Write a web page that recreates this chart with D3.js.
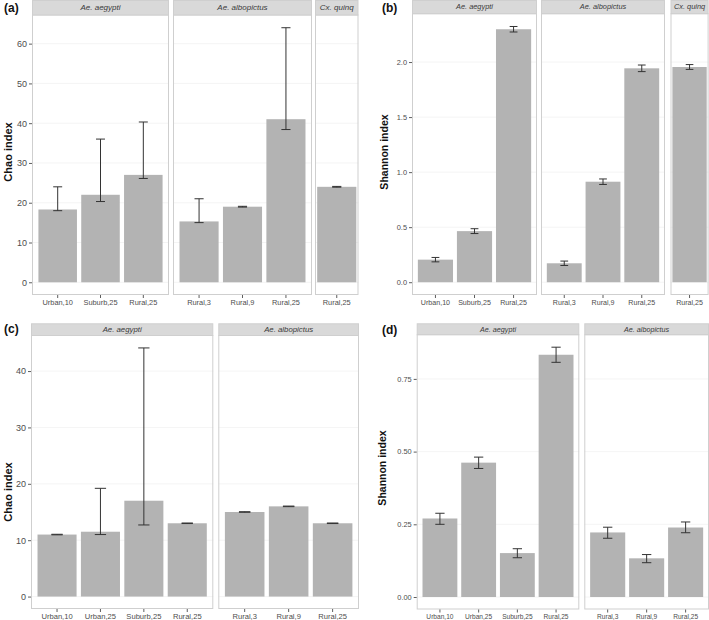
<!DOCTYPE html>
<html><head><meta charset="utf-8">
<script src="https://cdn.jsdelivr.net/npm/d3@7"></script>
<style>
html,body{margin:0;padding:0;background:#fff;}
svg{display:block;}
text{font-family:"Liberation Sans",Arial,Helvetica,sans-serif;}
</style></head>
<body>
<svg id="chart" width="709" height="620"></svg>
<script>
// ---------- DATA ----------
// (a) Chao index
const aFacets = ["Ae. aegypti", "Ae. albopictus", "Cx. quinq"];
const aCats = [["Urban,10", "Suburb,25", "Rural,25"], ["Rural,3", "Rural,9", "Rural,25"], ["Rural,25"]];
const aValues = [[18.3, 22.0, 27.0], [15.3, 19.0, 41.0], [24.0]];
const aLower = [[18.0, 20.3, 26.1], [15.0, 18.9, 38.4], [23.9]];
const aUpper = [[24.0, 36.0, 40.3], [21.0, 19.1, 64.0], [24.1]];
const aTicks = [0, 10, 20, 30, 40, 50, 60];

// (b) Shannon index
const bFacets = ["Ae. aegypti", "Ae. albopictus", "Cx. quinq"];
const bCats = [["Urban,10", "Suburb,25", "Rural,25"], ["Rural,3", "Rural,9", "Rural,25"], ["Rural,25"]];
const bValues = [[0.205, 0.464, 2.298], [0.172, 0.913, 1.943], [1.955]];
const bLower = [[0.185, 0.442, 2.273], [0.152, 0.888, 1.913], [1.933]];
const bUpper = [[0.225, 0.486, 2.323], [0.192, 0.938, 1.973], [1.977]];
const bTicks = [0, 0.5, 1.0, 1.5, 2.0];

// (c) Chao index
const cFacets = ["Ae. aegypti", "Ae. albopictus"];
const cCats = [["Urban,10", "Urban,25", "Suburb,25", "Rural,25"], ["Rural,3", "Rural,9", "Rural,25"]];
const cValues = [[11.0, 11.5, 17.0, 13.0], [15.0, 16.0, 13.0]];
const cLower = [[10.95, 11.0, 12.7, 12.95], [14.95, 15.95, 12.95]];
const cUpper = [[11.05, 19.2, 44.1, 13.05], [15.05, 16.05, 13.05]];
const cTicks = [0, 10, 20, 30, 40];

// (d) Shannon index
const dFacets = ["Ae. aegypti", "Ae. albopictus"];
const dCats = [["Urban,10", "Urban,25", "Suburb,25", "Rural,25"], ["Rural,3", "Rural,9", "Rural,25"]];
const dValues = [[0.270, 0.462, 0.151, 0.833], [0.222, 0.133, 0.239]];
const dLower = [[0.250, 0.442, 0.135, 0.807], [0.202, 0.118, 0.221]];
const dUpper = [[0.288, 0.481, 0.166, 0.859], [0.240, 0.146, 0.258]];
const dTicks = [0, 0.25, 0.50, 0.75];

// ---------- STYLE / LAYOUT ----------
const BAR = "#b3b3b3", STRIP = "#d9d9d9", BORDER = "#cfcfcf", GRID = "#f1f1f1", INK = "#333333";
const svg = d3.select("#chart");

function drawPanel(o) {
  const g = svg.append("g");
  // y domain like ggplot: include 0, expand 5%
  const maxU = d3.max(o.upper.flat());
  const pad = maxU * 0.05;
  const y = d3.scaleLinear().domain([-pad, maxU + pad]).range([o.py1, o.py0]);

  o.facets.forEach((name, i) => {
    const [x0, x1, po] = o.fx[i];
    const xb = d3.scaleBand().domain(o.cats[i]).range([x0, x1]).paddingInner(0.1).paddingOuter(po);
    const fg = g.append("g");
    const clipId = "clip" + o.id + i;
    fg.append("clipPath").attr("id", clipId).append("rect")
      .attr("x", x0).attr("y", o.sy0).attr("width", x1 - x0).attr("height", o.py1 - o.sy0);
    // background + grid
    fg.append("rect").attr("x", x0).attr("y", o.py0).attr("width", x1 - x0).attr("height", o.py1 - o.py0).attr("fill", "#fff");
    fg.selectAll(".grid").data(o.ticks).enter().append("line")
      .attr("x1", x0).attr("x2", x1).attr("y1", d => y(d)).attr("y2", d => y(d))
      .attr("stroke", GRID).attr("stroke-width", 0.8);
    const rows = o.cats[i].map((c, j) => ({ c, v: o.values[i][j], lo: o.lower[i][j], hi: o.upper[i][j] }));
    const mg = fg.append("g").attr("clip-path", `url(#${clipId})`);
    mg.selectAll(".bar").data(rows).enter().append("rect")
      .attr("x", d => xb(d.c)).attr("width", xb.bandwidth())
      .attr("y", d => y(d.v)).attr("height", d => y(0) - y(d.v))
      .attr("fill", BAR);
    const cw = xb.step() * o.cap / 2;
    const eb = mg.selectAll(".eb").data(rows).enter().append("g");
    eb.append("line").attr("x1", d => xb(d.c) + xb.bandwidth() / 2).attr("x2", d => xb(d.c) + xb.bandwidth() / 2)
      .attr("y1", d => y(d.lo)).attr("y2", d => y(d.hi)).attr("stroke", INK).attr("stroke-width", 1);
    eb.append("line").attr("x1", d => xb(d.c) + xb.bandwidth() / 2 - cw).attr("x2", d => xb(d.c) + xb.bandwidth() / 2 + cw)
      .attr("y1", d => y(d.hi)).attr("y2", d => y(d.hi)).attr("stroke", INK).attr("stroke-width", 1);
    eb.append("line").attr("x1", d => xb(d.c) + xb.bandwidth() / 2 - cw).attr("x2", d => xb(d.c) + xb.bandwidth() / 2 + cw)
      .attr("y1", d => y(d.lo)).attr("y2", d => y(d.lo)).attr("stroke", INK).attr("stroke-width", 1);
    // border
    fg.append("rect").attr("x", x0 + 0.5).attr("y", o.py0).attr("width", x1 - x0 - 1).attr("height", o.py1 - o.py0 - 0.5)
      .attr("fill", "none").attr("stroke", BORDER).attr("stroke-width", 1);
    // strip
    fg.append("rect").attr("x", x0 + 0.5).attr("y", o.sy0 + 0.5).attr("width", x1 - x0 - 1).attr("height", o.py0 - o.sy0 - 0.5)
      .attr("fill", STRIP).attr("stroke", BORDER).attr("stroke-width", 1);
    fg.append("text").attr("x", (x0 + x1) / 2).attr("y", (o.sy0 + o.py0) / 2 + o.stripFs * 0.35)
      .attr("text-anchor", "middle").attr("font-style", "italic").attr("font-size", o.stripFs)
      .attr("fill", "#3a3a3a").text(name);
    // x axis
    const ax = fg.append("g").attr("transform", `translate(0,${o.py1})`)
      .call(d3.axisBottom(xb).tickSize(3).tickPadding(2));
    ax.select(".domain").remove();
    ax.selectAll(".tick line").attr("stroke", INK).attr("stroke-width", 0.8);
    ax.selectAll(".tick text").attr("font-size", o.xFs).attr("fill", "#4d4d4d").attr("font-family", null);
  });

  // y axis
  const ay = g.append("g").attr("transform", `translate(${o.fx[0][0]},0)`)
    .call(d3.axisLeft(y).tickValues(o.ticks).tickFormat(d3.format(o.fmt)).tickSize(3).tickPadding(2));
  ay.select(".domain").remove();
  ay.selectAll(".tick line").attr("stroke", INK).attr("stroke-width", 0.8);
  ay.selectAll(".tick text").attr("font-size", o.yFs).attr("fill", "#4d4d4d").attr("font-family", null);

  // y title
  g.append("text").attr("transform", `translate(${o.yt[0]},${o.yt[1]}) rotate(-90)`)
    .attr("text-anchor", "middle").attr("font-weight", "bold").attr("font-size", o.ytFs)
    .attr("fill", "#111").text(o.ytitle);
  // panel label
  g.append("text").attr("x", o.lab[0]).attr("y", o.lab[1]).attr("font-weight", "bold")
    .attr("font-size", 12).attr("fill", "#111").text(o.label);
}

drawPanel({ id: "a", label: "(a)", lab: [4, 12], ytitle: "Chao index", yt: [12, 152], ytFs: 11,
  facets: aFacets, cats: aCats, values: aValues, lower: aLower, upper: aUpper, ticks: aTicks, fmt: "d",
  fx: [[32, 169, 0.15], [173, 312, 0.15], [315, 358.5, 0.05]], sy0: 0, py0: 15, py1: 295,
  cap: 0.21, stripFs: 8, xFs: 7.4, yFs: 9 });

drawPanel({ id: "b", label: "(b)", lab: [382, 12], ytitle: "Shannon index", yt: [388, 152], ytFs: 10.5,
  facets: bFacets, cats: bCats, values: bValues, lower: bLower, upper: bUpper, ticks: bTicks, fmt: ".1f",
  fx: [[412, 537, 0.15], [541, 665, 0.15], [670.5, 708.6, 0.04]], sy0: 0, py0: 13.7, py1: 295,
  cap: 0.2, stripFs: 7.4, xFs: 7.1, yFs: 7.4 });

drawPanel({ id: "c", label: "(c)", lab: [4, 333], ytitle: "Chao index", yt: [12, 492], ytFs: 11,
  facets: cFacets, cats: cCats, values: cValues, lower: cLower, upper: cUpper, ticks: cTicks, fmt: "d",
  fx: [[31, 213.3, 0.15], [218.3, 359, 0.15]], sy0: 323.3, py0: 335.5, py1: 609,
  cap: 0.26, stripFs: 7.8, xFs: 7.6, yFs: 9 });

drawPanel({ id: "d", label: "(d)", lab: [382, 334], ytitle: "Shannon index", yt: [386, 468], ytFs: 10.5,
  facets: dFacets, cats: dCats, values: dValues, lower: dLower, upper: dUpper, ticks: dTicks, fmt: ".2f",
  fx: [[416.7, 579.3, 0.15], [584.3, 709, 0.15]], sy0: 323.3, py0: 334.7, py1: 609.5,
  cap: 0.24, stripFs: 7.2, xFs: 6.6, yFs: 7.4 });
</script>
</body></html>
